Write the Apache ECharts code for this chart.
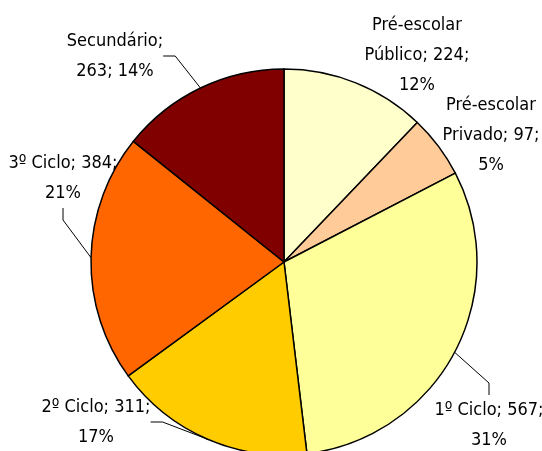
<!DOCTYPE html>
<html>
<head>
<meta charset="utf-8">
<script src="https://cdn.jsdelivr.net/npm/echarts@6/dist/echarts.min.js"></script>
<style>
html,body{margin:0;padding:0;background:#fff;}
#chart{width:542px;height:451px;}
</style>
</head>
<body>
<div id="chart"></div>
<script>
// categorias e valores
var names = ['Pré-escolar\nPúblico', 'Pré-escolar\nPrivado', '1º Ciclo', '2º Ciclo', '3º Ciclo', 'Secundário'];
var values = [224, 97, 567, 311, 384, 263];
var colors = ['#FFFFCC', '#FFCC99', '#FFFF99', '#FFCC00', '#FF6600', '#800000'];
// posição dos rótulos (centro), como no original
var labelPos = [[417, 55], [491, 135], [489, 425], [96, 422], [63, 178], [115, 56]];
var showLine = [false, false, true, true, true, true];

var chart = echarts.init(document.getElementById('chart'));
var data = values.map(function(v, i){
    return {
        value: v,
        name: names[i],
        itemStyle: {color: colors[i]},
        labelLine: {show: showLine[i]}
    };
});
chart.setOption({
    animation: false,
    series: [{
        type: 'pie',
        center: [284, 262],
        radius: 193,
        startAngle: 90,
        clockwise: true,
        avoidLabelOverlap: false,
        itemStyle: {borderColor: '#000', borderWidth: 1.5},
        label: {
            show: true,
            color: '#000',
            fontFamily: '"Liberation Sans Narrow", "Arial Narrow", "DejaVu Sans Condensed", sans-serif',
            fontSize: 18,
            lineHeight: 30,
            align: 'center',
            formatter: function(p){
                var pct = Math.round(p.percent) + '%';
                if (p.dataIndex === 5) return p.name + ';\n' + p.value + '; ' + pct;
                return p.name + '; ' + p.value + ';\n' + pct;
            }
        },
        labelLine: {length: 12, length2: 12, lineStyle: {color: '#000', width: 1}},
        labelLayout: function(params){
            var pos = labelPos[params.dataIndex];
            return {x: pos[0], y: pos[1], align: 'center', verticalAlign: 'middle', hideOverlap: false};
        },
        emphasis: {disabled: true},
        data: data
    }]
});
</script>
</body>
</html>
